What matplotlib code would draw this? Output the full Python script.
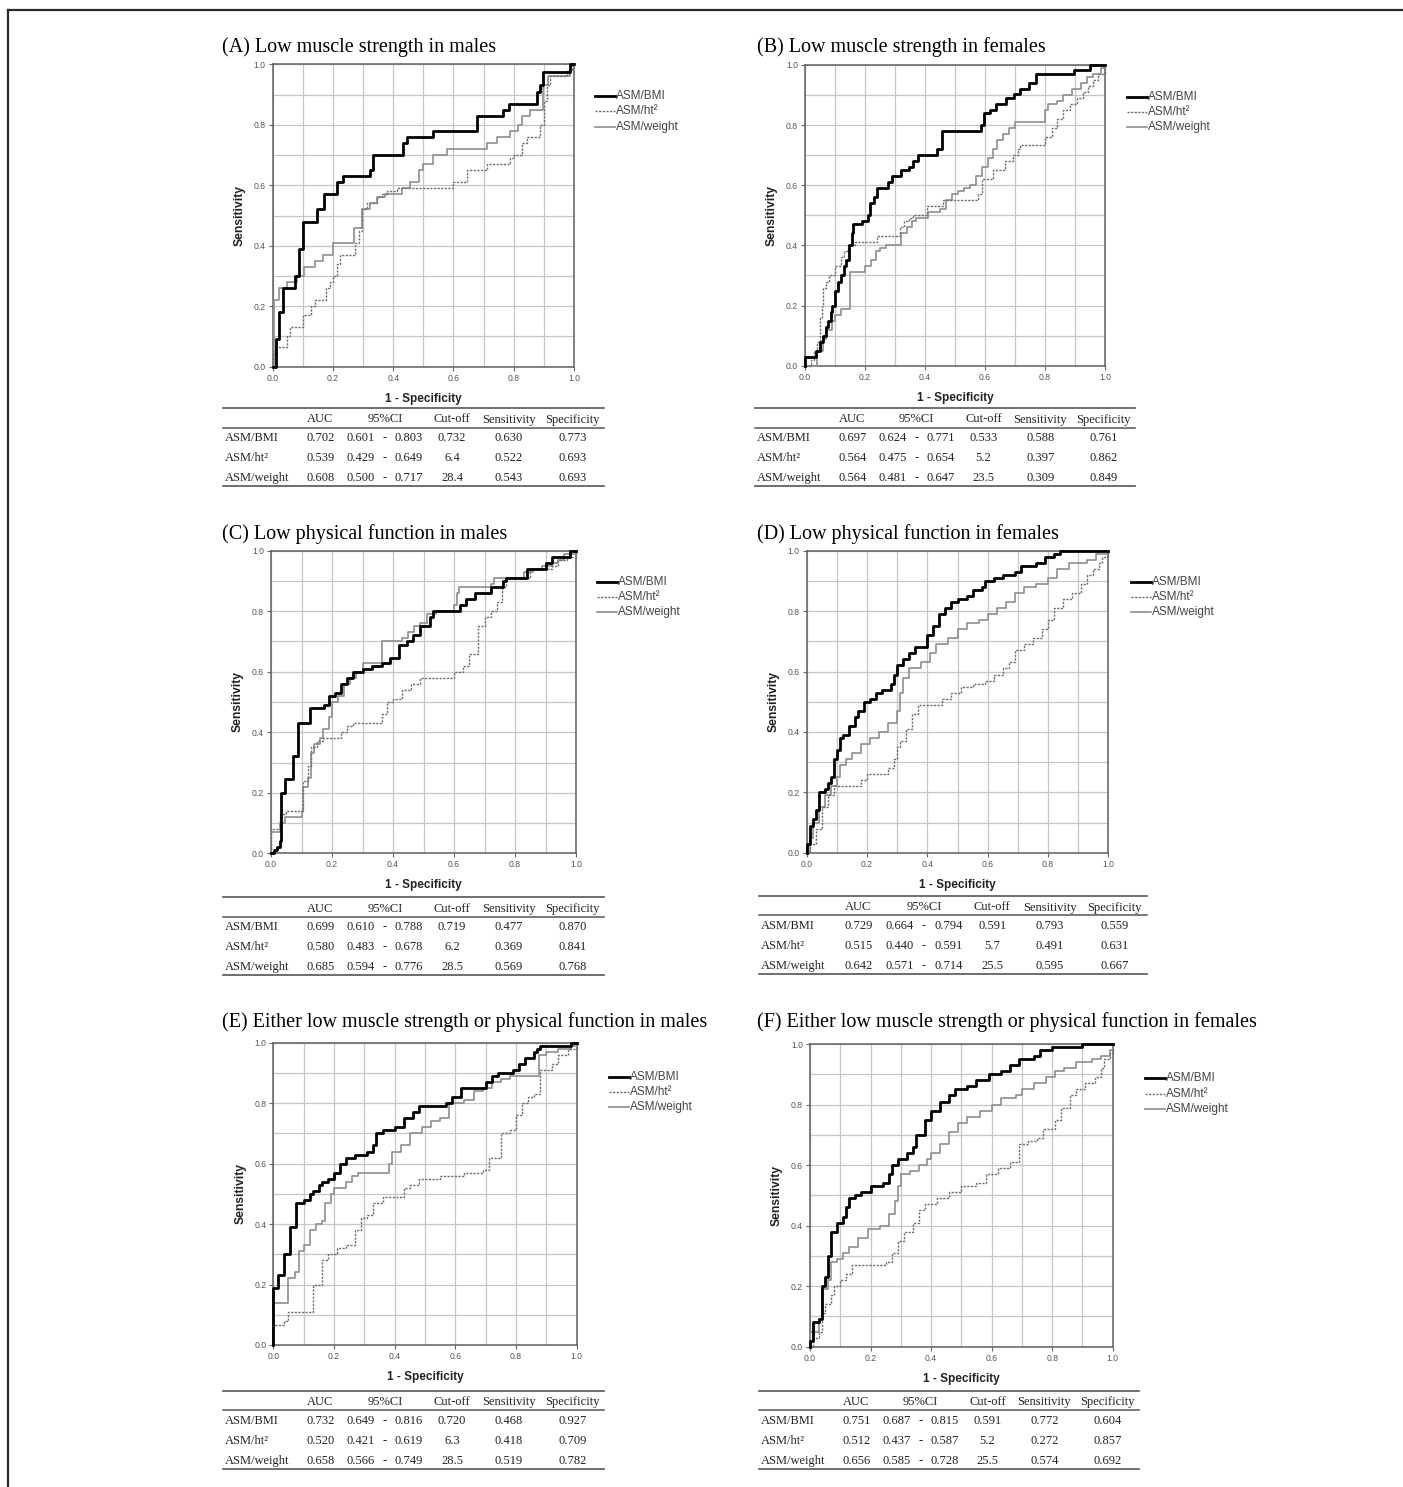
import numpy as np
import matplotlib
matplotlib.use("Agg")
import matplotlib.pyplot as plt
from matplotlib.lines import Line2D

# ---------------- DATA ----------------
series_names = ["ASM/BMI", "ASM/ht\u00b2", "ASM/weight"]
tick_values = [0.0, 0.2, 0.4, 0.6, 0.8, 1.0]
tick_labels = ["0.0", "0.2", "0.4", "0.6", "0.8", "1.0"]
table_header = ["AUC", "95%CI", "Cut-off", "Sensitivity", "Specificity"]

titles = {
    "A": "(A) Low muscle strength in males",
    "B": "(B) Low muscle strength in females",
    "C": "(C) Low physical function in males",
    "D": "(D) Low physical function in females",
    "E": "(E) Either low muscle strength or physical function in males",
    "F": "(F) Either low muscle strength or physical function in females",
}

# ROC knots: (1-specificity, sensitivity)
A_bmi_x = [0, 0.011, 0.022, 0.033, 0.074, 0.088, 0.102, 0.148, 0.170, 0.212, 0.232, 0.323, 0.334, 0.431, 0.445, 0.533, 0.677, 0.765, 0.785, 0.876, 0.887, 0.898, 0.987, 1.0]
A_bmi_y = [0, 0.09, 0.18, 0.26, 0.30, 0.39, 0.48, 0.52, 0.57, 0.61, 0.63, 0.65, 0.70, 0.74, 0.76, 0.78, 0.83, 0.85, 0.87, 0.91, 0.93, 0.975, 1.0, 1.0]
A_ht_x = [0, 0.0, 0.008, 0.046, 0.058, 0.102, 0.128, 0.139, 0.177, 0.189, 0.200, 0.212, 0.223, 0.273, 0.287, 0.297, 0.312, 0.345, 0.362, 0.378, 0.411, 0.600, 0.644, 0.710, 0.787, 0.800, 0.826, 0.843, 0.888, 0.899, 0.910, 0.920, 0.976, 0.993, 1.0]
A_ht_y = [0, 0.04, 0.065, 0.10, 0.13, 0.17, 0.20, 0.22, 0.26, 0.28, 0.30, 0.34, 0.37, 0.41, 0.45, 0.52, 0.54, 0.56, 0.57, 0.58, 0.59, 0.61, 0.65, 0.67, 0.69, 0.70, 0.74, 0.76, 0.80, 0.88, 0.93, 0.96, 0.98, 1.0, 1.0]
A_wt_x = [0, 0.004, 0.022, 0.048, 0.080, 0.104, 0.140, 0.168, 0.201, 0.270, 0.295, 0.323, 0.345, 0.373, 0.430, 0.456, 0.484, 0.500, 0.533, 0.577, 0.710, 0.743, 0.788, 0.815, 0.826, 0.854, 0.898, 0.913, 0.987, 1.0]
A_wt_y = [0, 0.22, 0.26, 0.28, 0.30, 0.33, 0.35, 0.37, 0.41, 0.46, 0.52, 0.54, 0.56, 0.57, 0.59, 0.61, 0.65, 0.67, 0.70, 0.72, 0.74, 0.76, 0.78, 0.80, 0.83, 0.85, 0.93, 0.96, 1.0, 1.0]

B_bmi_x = [0, 0, 0.035, 0.05, 0.06, 0.07, 0.075, 0.085, 0.09, 0.10, 0.11, 0.12, 0.13, 0.135, 0.145, 0.155, 0.16, 0.19, 0.21, 0.215, 0.23, 0.24, 0.275, 0.29, 0.32, 0.345, 0.36, 0.375, 0.44, 0.455, 0.585, 0.595, 0.615, 0.635, 0.67, 0.695, 0.715, 0.745, 0.77, 0.895, 0.95, 1.0]
B_bmi_y = [0, 0.03, 0.05, 0.08, 0.10, 0.13, 0.15, 0.18, 0.20, 0.25, 0.28, 0.30, 0.33, 0.35, 0.40, 0.44, 0.47, 0.48, 0.50, 0.54, 0.56, 0.59, 0.61, 0.63, 0.65, 0.66, 0.68, 0.70, 0.72, 0.78, 0.80, 0.84, 0.85, 0.87, 0.89, 0.905, 0.92, 0.94, 0.97, 0.985, 1.0, 1.0]
B_ht_x = [0, 0.02, 0.03, 0.04, 0.05, 0.055, 0.06, 0.07, 0.08, 0.10, 0.12, 0.13, 0.144, 0.167, 0.239, 0.317, 0.33, 0.345, 0.36, 0.405, 0.46, 0.578, 0.59, 0.628, 0.667, 0.694, 0.71, 0.717, 0.80, 0.822, 0.839, 0.861, 0.883, 0.906, 0.928, 0.944, 0.961, 0.978, 1.0]
B_ht_y = [0, 0.02, 0.05, 0.08, 0.16, 0.20, 0.26, 0.28, 0.30, 0.33, 0.36, 0.38, 0.40, 0.41, 0.43, 0.46, 0.48, 0.49, 0.50, 0.53, 0.55, 0.57, 0.62, 0.65, 0.68, 0.70, 0.72, 0.735, 0.76, 0.79, 0.82, 0.85, 0.87, 0.89, 0.91, 0.93, 0.95, 0.97, 1.0]
B_wt_x = [0, 0.04, 0.06, 0.07, 0.09, 0.10, 0.12, 0.15, 0.20, 0.22, 0.235, 0.25, 0.27, 0.32, 0.34, 0.355, 0.37, 0.41, 0.45, 0.47, 0.49, 0.51, 0.53, 0.55, 0.57, 0.59, 0.61, 0.625, 0.64, 0.66, 0.68, 0.70, 0.80, 0.81, 0.84, 0.86, 0.89, 0.92, 0.94, 0.96, 0.985, 1.0]
B_wt_y = [0, 0.05, 0.09, 0.12, 0.15, 0.17, 0.19, 0.31, 0.33, 0.35, 0.38, 0.39, 0.40, 0.44, 0.46, 0.48, 0.49, 0.51, 0.52, 0.55, 0.57, 0.58, 0.59, 0.60, 0.63, 0.66, 0.69, 0.72, 0.75, 0.77, 0.79, 0.81, 0.85, 0.87, 0.88, 0.90, 0.92, 0.94, 0.96, 0.97, 0.99, 1.0]

C_bmi_x = [0, 0.01, 0.02, 0.03, 0.032, 0.046, 0.073, 0.087, 0.128, 0.174, 0.19, 0.21, 0.23, 0.25, 0.27, 0.30, 0.33, 0.365, 0.39, 0.42, 0.445, 0.467, 0.49, 0.52, 0.53, 0.62, 0.64, 0.67, 0.72, 0.76, 0.77, 0.84, 0.90, 0.92, 0.98, 1.0]
C_bmi_y = [0, 0.01, 0.02, 0.04, 0.20, 0.245, 0.32, 0.43, 0.48, 0.49, 0.52, 0.53, 0.56, 0.58, 0.60, 0.61, 0.62, 0.63, 0.645, 0.69, 0.70, 0.72, 0.75, 0.78, 0.80, 0.82, 0.84, 0.86, 0.88, 0.90, 0.91, 0.94, 0.96, 0.98, 1.0, 1.0]
C_ht_x = [0, 0, 0.03, 0.05, 0.105, 0.12, 0.13, 0.15, 0.17, 0.23, 0.25, 0.27, 0.363, 0.38, 0.40, 0.43, 0.46, 0.49, 0.60, 0.63, 0.65, 0.68, 0.70, 0.72, 0.74, 0.756, 0.77, 0.85, 0.92, 0.94, 0.97, 1.0]
C_ht_y = [0, 0.08, 0.13, 0.14, 0.24, 0.29, 0.35, 0.37, 0.38, 0.40, 0.42, 0.43, 0.46, 0.50, 0.51, 0.54, 0.56, 0.58, 0.60, 0.62, 0.66, 0.75, 0.78, 0.80, 0.83, 0.88, 0.91, 0.94, 0.95, 0.97, 0.98, 1.0]
C_wt_x = [0, 0, 0.03, 0.045, 0.10, 0.105, 0.12, 0.13, 0.14, 0.16, 0.17, 0.19, 0.20, 0.22, 0.24, 0.26, 0.28, 0.30, 0.365, 0.43, 0.45, 0.47, 0.49, 0.51, 0.54, 0.60, 0.61, 0.615, 0.72, 0.73, 0.83, 0.86, 0.89, 0.92, 0.94, 0.96, 1.0]
C_wt_y = [0, 0.07, 0.10, 0.12, 0.14, 0.22, 0.25, 0.33, 0.36, 0.38, 0.41, 0.45, 0.50, 0.52, 0.56, 0.58, 0.60, 0.63, 0.70, 0.71, 0.73, 0.75, 0.76, 0.79, 0.80, 0.82, 0.86, 0.88, 0.89, 0.91, 0.93, 0.94, 0.95, 0.96, 0.97, 0.99, 1.0]

D_bmi_x = [0, 0, 0.01, 0.02, 0.03, 0.04, 0.06, 0.07, 0.08, 0.09, 0.10, 0.11, 0.12, 0.14, 0.16, 0.17, 0.19, 0.21, 0.23, 0.25, 0.28, 0.29, 0.30, 0.32, 0.34, 0.36, 0.40, 0.42, 0.44, 0.46, 0.48, 0.50, 0.53, 0.55, 0.58, 0.59, 0.62, 0.65, 0.69, 0.71, 0.76, 0.79, 0.82, 0.84, 1.0]
D_bmi_y = [0, 0.03, 0.09, 0.11, 0.14, 0.20, 0.21, 0.23, 0.25, 0.31, 0.34, 0.38, 0.39, 0.42, 0.45, 0.47, 0.50, 0.51, 0.53, 0.54, 0.56, 0.59, 0.62, 0.64, 0.66, 0.68, 0.72, 0.75, 0.79, 0.81, 0.83, 0.84, 0.85, 0.87, 0.88, 0.90, 0.91, 0.92, 0.93, 0.95, 0.96, 0.98, 0.99, 1.0, 1.0]
D_ht_x = [0, 0.01, 0.03, 0.05, 0.07, 0.09, 0.18, 0.20, 0.27, 0.29, 0.30, 0.31, 0.33, 0.35, 0.37, 0.45, 0.48, 0.51, 0.55, 0.59, 0.62, 0.65, 0.67, 0.69, 0.72, 0.75, 0.78, 0.80, 0.82, 0.85, 0.88, 0.91, 0.93, 0.95, 0.97, 0.98, 1.0]
D_ht_y = [0, 0.03, 0.08, 0.15, 0.19, 0.22, 0.24, 0.26, 0.28, 0.31, 0.35, 0.37, 0.41, 0.46, 0.49, 0.51, 0.53, 0.55, 0.56, 0.57, 0.59, 0.61, 0.63, 0.67, 0.69, 0.71, 0.74, 0.77, 0.81, 0.84, 0.86, 0.89, 0.92, 0.94, 0.96, 0.98, 1.0]
D_wt_x = [0, 0.01, 0.02, 0.04, 0.06, 0.08, 0.10, 0.11, 0.13, 0.15, 0.18, 0.21, 0.24, 0.27, 0.30, 0.31, 0.32, 0.34, 0.38, 0.41, 0.43, 0.47, 0.50, 0.53, 0.57, 0.60, 0.63, 0.66, 0.69, 0.72, 0.76, 0.80, 0.83, 0.87, 0.93, 0.96, 1.0]
D_wt_y = [0, 0.05, 0.10, 0.15, 0.19, 0.22, 0.25, 0.29, 0.31, 0.33, 0.36, 0.38, 0.40, 0.43, 0.47, 0.53, 0.58, 0.61, 0.63, 0.66, 0.69, 0.71, 0.74, 0.76, 0.77, 0.79, 0.81, 0.83, 0.86, 0.88, 0.89, 0.91, 0.94, 0.96, 0.97, 0.99, 1.0]

E_bmi_x = [0, 0, 0.015, 0.035, 0.055, 0.075, 0.10, 0.12, 0.13, 0.15, 0.16, 0.18, 0.20, 0.22, 0.24, 0.27, 0.31, 0.33, 0.34, 0.36, 0.40, 0.43, 0.46, 0.48, 0.57, 0.59, 0.62, 0.70, 0.72, 0.74, 0.79, 0.81, 0.83, 0.86, 0.87, 0.88, 0.98, 1.0]
E_bmi_y = [0, 0.19, 0.23, 0.30, 0.39, 0.47, 0.48, 0.50, 0.51, 0.53, 0.54, 0.55, 0.57, 0.60, 0.62, 0.63, 0.64, 0.66, 0.70, 0.71, 0.72, 0.75, 0.77, 0.79, 0.80, 0.82, 0.85, 0.87, 0.89, 0.90, 0.91, 0.93, 0.95, 0.97, 0.98, 0.99, 1.0, 1.0]
E_ht_x = [0, 0, 0.035, 0.05, 0.13, 0.16, 0.18, 0.21, 0.24, 0.27, 0.29, 0.31, 0.33, 0.36, 0.43, 0.45, 0.48, 0.55, 0.63, 0.69, 0.71, 0.75, 0.78, 0.80, 0.82, 0.84, 0.86, 0.88, 0.92, 0.94, 0.97, 1.0]
E_ht_y = [0, 0.065, 0.08, 0.11, 0.20, 0.28, 0.30, 0.32, 0.33, 0.38, 0.42, 0.43, 0.47, 0.49, 0.52, 0.53, 0.55, 0.56, 0.57, 0.58, 0.62, 0.70, 0.71, 0.76, 0.80, 0.82, 0.83, 0.91, 0.93, 0.96, 0.98, 1.0]
E_wt_x = [0, 0, 0.05, 0.07, 0.085, 0.10, 0.12, 0.14, 0.16, 0.17, 0.19, 0.20, 0.24, 0.26, 0.28, 0.38, 0.39, 0.42, 0.45, 0.49, 0.52, 0.55, 0.58, 0.63, 0.66, 0.69, 0.72, 0.75, 0.78, 0.875, 0.90, 0.94, 0.98, 1.0]
E_wt_y = [0, 0.14, 0.22, 0.24, 0.31, 0.33, 0.38, 0.40, 0.41, 0.47, 0.50, 0.52, 0.54, 0.56, 0.57, 0.60, 0.64, 0.66, 0.70, 0.72, 0.74, 0.75, 0.80, 0.81, 0.84, 0.85, 0.87, 0.88, 0.89, 0.96, 0.97, 0.98, 0.99, 1.0]

F_bmi_x = [0, 0, 0.01, 0.03, 0.04, 0.05, 0.06, 0.07, 0.09, 0.11, 0.12, 0.13, 0.15, 0.17, 0.20, 0.24, 0.26, 0.27, 0.29, 0.32, 0.34, 0.35, 0.38, 0.40, 0.43, 0.46, 0.48, 0.52, 0.55, 0.59, 0.63, 0.66, 0.69, 0.74, 0.76, 0.80, 0.90, 1.0]
F_bmi_y = [0, 0.02, 0.08, 0.09, 0.20, 0.23, 0.30, 0.38, 0.41, 0.43, 0.46, 0.49, 0.50, 0.51, 0.53, 0.54, 0.57, 0.60, 0.62, 0.64, 0.66, 0.70, 0.75, 0.78, 0.81, 0.83, 0.85, 0.86, 0.88, 0.90, 0.91, 0.93, 0.95, 0.96, 0.98, 0.99, 1.0, 1.0]
F_ht_x = [0, 0.01, 0.03, 0.04, 0.05, 0.07, 0.08, 0.10, 0.12, 0.14, 0.25, 0.27, 0.29, 0.31, 0.34, 0.36, 0.38, 0.42, 0.46, 0.50, 0.55, 0.58, 0.62, 0.66, 0.69, 0.72, 0.75, 0.77, 0.81, 0.83, 0.86, 0.88, 0.91, 0.94, 0.96, 0.97, 0.99, 1.0]
F_ht_y = [0, 0.03, 0.05, 0.11, 0.14, 0.17, 0.20, 0.22, 0.24, 0.27, 0.28, 0.31, 0.35, 0.38, 0.41, 0.45, 0.47, 0.49, 0.51, 0.53, 0.54, 0.57, 0.59, 0.61, 0.67, 0.68, 0.69, 0.72, 0.75, 0.79, 0.83, 0.85, 0.87, 0.89, 0.92, 0.95, 0.97, 1.0]
F_wt_x = [0, 0, 0.03, 0.04, 0.06, 0.07, 0.09, 0.11, 0.13, 0.16, 0.19, 0.23, 0.26, 0.28, 0.29, 0.30, 0.33, 0.36, 0.385, 0.40, 0.43, 0.46, 0.49, 0.52, 0.56, 0.60, 0.63, 0.68, 0.70, 0.74, 0.78, 0.81, 0.84, 0.88, 0.93, 0.96, 0.99, 1.0]
F_wt_y = [0, 0.05, 0.09, 0.19, 0.22, 0.28, 0.29, 0.31, 0.33, 0.36, 0.39, 0.40, 0.44, 0.48, 0.53, 0.57, 0.58, 0.60, 0.62, 0.64, 0.67, 0.71, 0.74, 0.76, 0.78, 0.80, 0.82, 0.83, 0.85, 0.87, 0.89, 0.91, 0.92, 0.94, 0.95, 0.96, 0.98, 1.0]

# Table rows: AUC, CI low, CI high, cut-off, sensitivity, specificity
A_table = [["0.702", "0.601", "0.803", "0.732", "0.630", "0.773"],
           ["0.539", "0.429", "0.649", "6.4", "0.522", "0.693"],
           ["0.608", "0.500", "0.717", "28.4", "0.543", "0.693"]]
B_table = [["0.697", "0.624", "0.771", "0.533", "0.588", "0.761"],
           ["0.564", "0.475", "0.654", "5.2", "0.397", "0.862"],
           ["0.564", "0.481", "0.647", "23.5", "0.309", "0.849"]]
C_table = [["0.699", "0.610", "0.788", "0.719", "0.477", "0.870"],
           ["0.580", "0.483", "0.678", "6.2", "0.369", "0.841"],
           ["0.685", "0.594", "0.776", "28.5", "0.569", "0.768"]]
D_table = [["0.729", "0.664", "0.794", "0.591", "0.793", "0.559"],
           ["0.515", "0.440", "0.591", "5.7", "0.491", "0.631"],
           ["0.642", "0.571", "0.714", "25.5", "0.595", "0.667"]]
E_table = [["0.732", "0.649", "0.816", "0.720", "0.468", "0.927"],
           ["0.520", "0.421", "0.619", "6.3", "0.418", "0.709"],
           ["0.658", "0.566", "0.749", "28.5", "0.519", "0.782"]]
F_table = [["0.751", "0.687", "0.815", "0.591", "0.772", "0.604"],
           ["0.512", "0.437", "0.587", "5.2", "0.272", "0.857"],
           ["0.656", "0.585", "0.728", "25.5", "0.574", "0.692"]]

curves = {
    "A": [(A_bmi_x, A_bmi_y), (A_ht_x, A_ht_y), (A_wt_x, A_wt_y)],
    "B": [(B_bmi_x, B_bmi_y), (B_ht_x, B_ht_y), (B_wt_x, B_wt_y)],
    "C": [(C_bmi_x, C_bmi_y), (C_ht_x, C_ht_y), (C_wt_x, C_wt_y)],
    "D": [(D_bmi_x, D_bmi_y), (D_ht_x, D_ht_y), (D_wt_x, D_wt_y)],
    "E": [(E_bmi_x, E_bmi_y), (E_ht_x, E_ht_y), (E_wt_x, E_wt_y)],
    "F": [(F_bmi_x, F_bmi_y), (F_ht_x, F_ht_y), (F_wt_x, F_wt_y)],
}
tables = {"A": A_table, "B": B_table, "C": C_table, "D": D_table, "E": E_table, "F": F_table}

# ---------------- LAYOUT (pixels) ----------------
W, H = 1403, 1487
layout = {
    "A": dict(title=(221.7, 52.0), ax=(272.7, 64.3, 574.0, 366.7), leg=(595.0, 96.0), tab=(223.0, 408.0, 604.0)),
    "B": dict(title=(756.7, 52.0), ax=(805.0, 65.0, 1105.0, 365.7), leg=(1126.7, 96.7), tab=(755.0, 408.0, 1135.0)),
    "C": dict(title=(221.7, 539.0), ax=(271.0, 550.7, 576.0, 853.3), leg=(596.7, 581.7), tab=(223.0, 897.3, 604.0)),
    "D": dict(title=(756.7, 539.0), ax=(806.7, 550.7, 1108.3, 852.7), leg=(1130.7, 581.7), tab=(759.3, 896.0, 1146.7)),
    "E": dict(title=(221.7, 1026.5), ax=(273.3, 1042.7, 576.7, 1345.0), leg=(609.3, 1076.7), tab=(223.0, 1390.7, 604.0)),
    "F": dict(title=(756.7, 1027.0), ax=(810.0, 1044.0, 1112.7, 1346.7), leg=(1145.0, 1078.3), tab=(759.3, 1390.7, 1139.0)),
}
# column centers relative to a 381px-wide table
col_offsets = [97.5, 138, 162, 186, 229, 286, 349.5]

SERIF = ["Liberation Serif", "DejaVu Serif"]
SANS = ["Liberation Sans", "DejaVu Sans"]

styles = [
    dict(color="black", lw=2.0, ls="-", zorder=5),
    dict(color="#6e6e6e", lw=1.0, ls=(0, (1.6, 1.0)), zorder=4),
    dict(color="#8e8e8e", lw=1.2, ls="-", zorder=3),
]

fig = plt.figure(figsize=(W / 100, H / 100), dpi=100)
fig.patch.set_facecolor("white")


def fxy(px, py):
    return px / W, 1 - py / H


def hline(x0, x1, y, color="#555555", lw=1.1):
    a, b = fxy(x0, y)
    c, _ = fxy(x1, y)
    fig.add_artist(Line2D([a, c], [b, b], transform=fig.transFigure, color=color, lw=lw))


def ftext(px, py, s, **kw):
    x, y = fxy(px, py)
    fig.text(x, y, s, **kw)


# figure border (top and left)
fig.add_artist(Line2D([8 / W, 1.0], [1 - 10 / H, 1 - 10 / H], transform=fig.transFigure, color="#2a2a2a", lw=1.6))
fig.add_artist(Line2D([8 / W, 8 / W], [1 - 10 / H, 0.0], transform=fig.transFigure, color="#2a2a2a", lw=1.6))

minor = np.arange(0, 1.0001, 0.1)

for key in ["A", "B", "C", "D", "E", "F"]:
    L = layout[key]
    x0, y0, x1, y1 = L["ax"]
    ax = fig.add_axes([x0 / W, 1 - y1 / H, (x1 - x0) / W, (y1 - y0) / H])
    ax.set_xlim(0, 1)
    ax.set_ylim(0, 1)
    ax.set_xticks(tick_values)
    ax.set_xticklabels(tick_labels)
    ax.set_yticks(tick_values)
    ax.set_yticklabels(tick_labels)
    ax.set_xticks(minor, minor=True)
    ax.set_yticks(minor, minor=True)
    ax.set_axisbelow(True)
    ax.grid(True, which="both", color="#c6c6c6", lw=0.9)
    ax.tick_params(which="minor", length=0)
    ax.tick_params(which="major", length=3, width=0.8, color="#666666", labelsize=6.2,
                   labelcolor="#555555", pad=2)
    for lab in ax.get_xticklabels() + ax.get_yticklabels():
        lab.set_family(SANS)
    for s in ax.spines.values():
        s.set_color("#5f5f5f")
        s.set_linewidth(1.1)

    # curves (draw weight, ht, bmi order so BMI on top)
    for (cx, cy), st in reversed(list(zip(curves[key], styles))):
        ax.plot(cx, cy, drawstyle="steps-post", color=st["color"], lw=st["lw"],
                ls=st["ls"], zorder=st["zorder"], clip_on=False)

    # axis labels
    ftext(x0 - 33, (y0 + y1) / 2, "Sensitivity", rotation=90, ha="center", va="center",
          fontsize=8.7, fontweight="bold", family=SANS, color="#222222")
    ftext((x0 + x1) / 2, y1 + 32, "1 - Specificity", ha="center", va="center",
          fontsize=8.5, fontweight="bold", family=SANS, color="#222222")

    # title
    tx, ty = L["title"]
    ftext(tx, ty, titles[key], ha="left", va="baseline", fontsize=14.5, family=SERIF, color="black")

    # legend
    lx, ly = L["leg"]
    for i, (name, st) in enumerate(zip(series_names, styles)):
        yy = ly + i * 15.3
        a, b = fxy(lx, yy)
        c, _ = fxy(lx + 20, yy)
        fig.add_artist(Line2D([a, c], [b, b], transform=fig.transFigure, color=st["color"],
                              lw=st["lw"], ls=st["ls"]))
        ftext(lx + 21, yy, name, ha="left", va="center", fontsize=8.5, family=SANS, color="#444444")

    # table
    tl, tt, tr = L["tab"]
    sc = (tr - tl) / 381.0
    cols = [tl + o * sc for o in col_offsets]
    hline(tl, tr, tt, lw=1.2)
    hline(tl, tr, tt + 19.5, lw=1.1)
    hline(tl, tr, tt + 78, lw=1.2)
    tkw = dict(fontsize=9, family=SERIF, color="#222222", va="center")
    hy = tt + 11.5
    ftext(cols[0], hy, table_header[0], ha="center", **tkw)
    ftext(cols[2], hy, table_header[1], ha="center", **tkw)
    ftext(cols[4], hy, table_header[2], ha="center", **tkw)
    ftext(cols[5], hy, table_header[3], ha="center", **tkw)
    ftext(cols[6], hy, table_header[4], ha="center", **tkw)
    for r, (name, row) in enumerate(zip(series_names, tables[key])):
        ry = tt + 30 + r * 20
        ftext(tl + 2, ry, name, ha="left", **tkw)
        ftext(cols[0], ry, row[0], ha="center", **tkw)
        ftext(cols[1], ry, row[1], ha="center", **tkw)
        ftext(cols[2], ry, "-", ha="center", **tkw)
        ftext(cols[3], ry, row[2], ha="center", **tkw)
        ftext(cols[4], ry, row[3], ha="center", **tkw)
        ftext(cols[5], ry, row[4], ha="center", **tkw)
        ftext(cols[6], ry, row[5], ha="center", **tkw)

fig.savefig("out.png", dpi=100, facecolor="white")
